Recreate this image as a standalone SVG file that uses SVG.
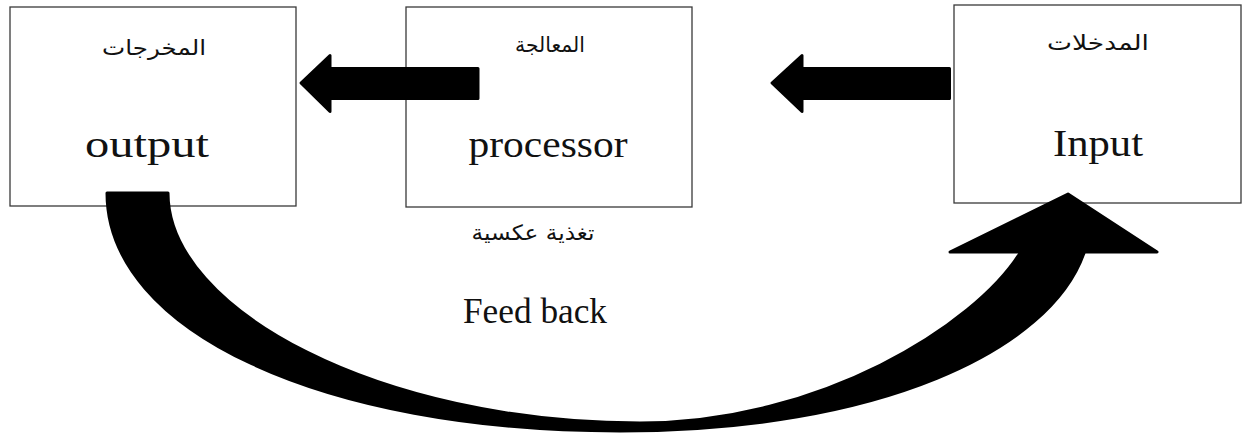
<svg xmlns="http://www.w3.org/2000/svg" width="1246" height="436" viewBox="0 0 1246 436">
<style>
.box{fill:#fff;stroke:#3a3a3a;stroke-width:1.3}
.en{font-family:"Liberation Serif",serif;font-size:38px;fill:#111;text-anchor:middle}
.ar{font-family:"DejaVu Sans","Noto Sans",sans-serif;font-size:21px;fill:#111;text-anchor:middle}
.arrow{fill:#000;stroke:#000;stroke-width:3;stroke-linejoin:round}
</style>
<rect width="1246" height="436" fill="#fff"/>
<g id="node-output">
<rect class="box" x="10" y="7" width="286" height="199"/>
<text class="ar" x="154" y="55" direction="rtl" textLength="104" lengthAdjust="spacingAndGlyphs">المخرجات</text>
<text class="en" x="147" y="157" textLength="124" lengthAdjust="spacingAndGlyphs">output</text>
</g>
<g id="node-processor">
<rect class="box" x="406" y="7" width="286" height="200"/>
<text class="ar" x="550" y="52" direction="rtl" textLength="70" lengthAdjust="spacingAndGlyphs">المعالجة</text>
<text class="en" x="548" y="157" textLength="159" lengthAdjust="spacingAndGlyphs">processor</text>
</g>
<g id="node-input">
<rect class="box" x="954" y="5" width="287" height="198"/>
<text class="ar" x="1098" y="50" direction="rtl" textLength="102" lengthAdjust="spacingAndGlyphs">المدخلات</text>
<text class="en" x="1098" y="156" textLength="90" lengthAdjust="spacingAndGlyphs">Input</text>
</g>
<g id="label-feedback">
<text class="ar" x="533" y="240" direction="rtl" textLength="123" lengthAdjust="spacingAndGlyphs">تغذية عكسية</text>
<text class="en" x="535" y="323" style="font-size:36px" textLength="144" lengthAdjust="spacingAndGlyphs">Feed back</text>
</g>
<g id="connectors">
<polygon class="arrow" points="301,83 330,55.5 330,68.5 478,68.5 478,98.5 330,98.5 330,111.5"/>
<polygon class="arrow" points="772,83 802,55.5 802,68.5 949.5,68.5 949.5,98.5 802,98.5 802,111.5"/>
<path class="arrow" d="M107,193 L168,193 C168,310 380,423 640,423 C820,423 975,325 1020,253 L1084,253 C1050,350 880,431 620,431 C322,431 107,331 107,193 Z" stroke-width="2"/>
<polygon class="arrow" points="1068,194 1157,252 950,252"/>
</g>
</svg>
